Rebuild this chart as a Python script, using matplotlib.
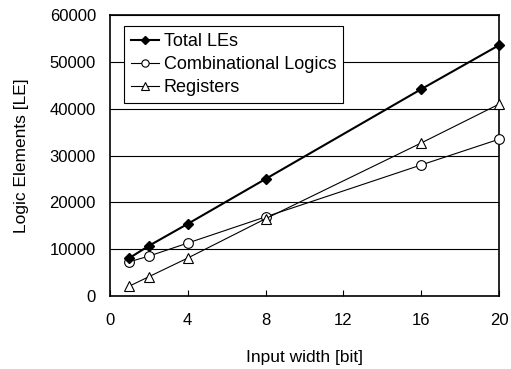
import numpy as np
import matplotlib.pyplot as plt

# data
width = [1, 2, 4, 8, 16, 20]
total_les = [8100, 10700, 15400, 25000, 44200, 53600]
comb_logics = [7300, 8500, 11300, 16900, 28000, 33500]
registers = [2100, 4100, 8100, 16500, 32700, 41000]

plt.rcParams['font.family'] = ['Liberation Sans', 'DejaVu Sans']
plt.rcParams['font.size'] = 12

fig = plt.figure(figsize=(5.11, 3.69), dpi=100)
ax = fig.add_axes([0.215, 0.198, 0.762, 0.761])

ax.plot(width, total_les, color='black', lw=1.5, marker='D', ms=5.5,
        mfc='black', mec='black', label='Total LEs', zorder=4, clip_on=False)
ax.plot(width, comb_logics, color='black', lw=0.8, marker='o', ms=7,
        mfc='white', mec='black', mew=0.8, label='Combinational Logics',
        zorder=3, clip_on=False)
ax.plot(width, registers, color='black', lw=0.8, marker='^', ms=7.5,
        mfc='white', mec='black', mew=0.8, label='Registers',
        zorder=3, clip_on=False)

ax.set_xlim(0, 20)
ax.set_ylim(0, 60000)
ax.set_xticks([0, 4, 8, 12, 16, 20])
ax.set_yticks(np.arange(0, 60001, 10000))
ax.grid(axis='y', color='black', lw=0.8)
ax.set_axisbelow(True)
ax.tick_params(axis='x', direction='in', length=4, pad=12, labelsize=12)
ax.tick_params(axis='y', length=0, pad=10, labelsize=12)
for sp in ax.spines.values():
    sp.set_linewidth(1.2)

ax.set_xlabel('Input width [bit]', fontsize=12.5, labelpad=16)
ax.set_ylabel('Logic Elements [LE]', fontsize=12.5, labelpad=15)

leg = ax.legend(loc='upper left', bbox_to_anchor=(0.036, 0.961), fontsize=13,
                frameon=True, fancybox=False, framealpha=1, edgecolor='black',
                handlelength=1.55, handletextpad=0.25, borderpad=0.4,
                labelspacing=0.32, borderaxespad=0, markerscale=0.75)
leg.get_frame().set_linewidth(0.8)

fig.savefig('out.png', dpi=100)
